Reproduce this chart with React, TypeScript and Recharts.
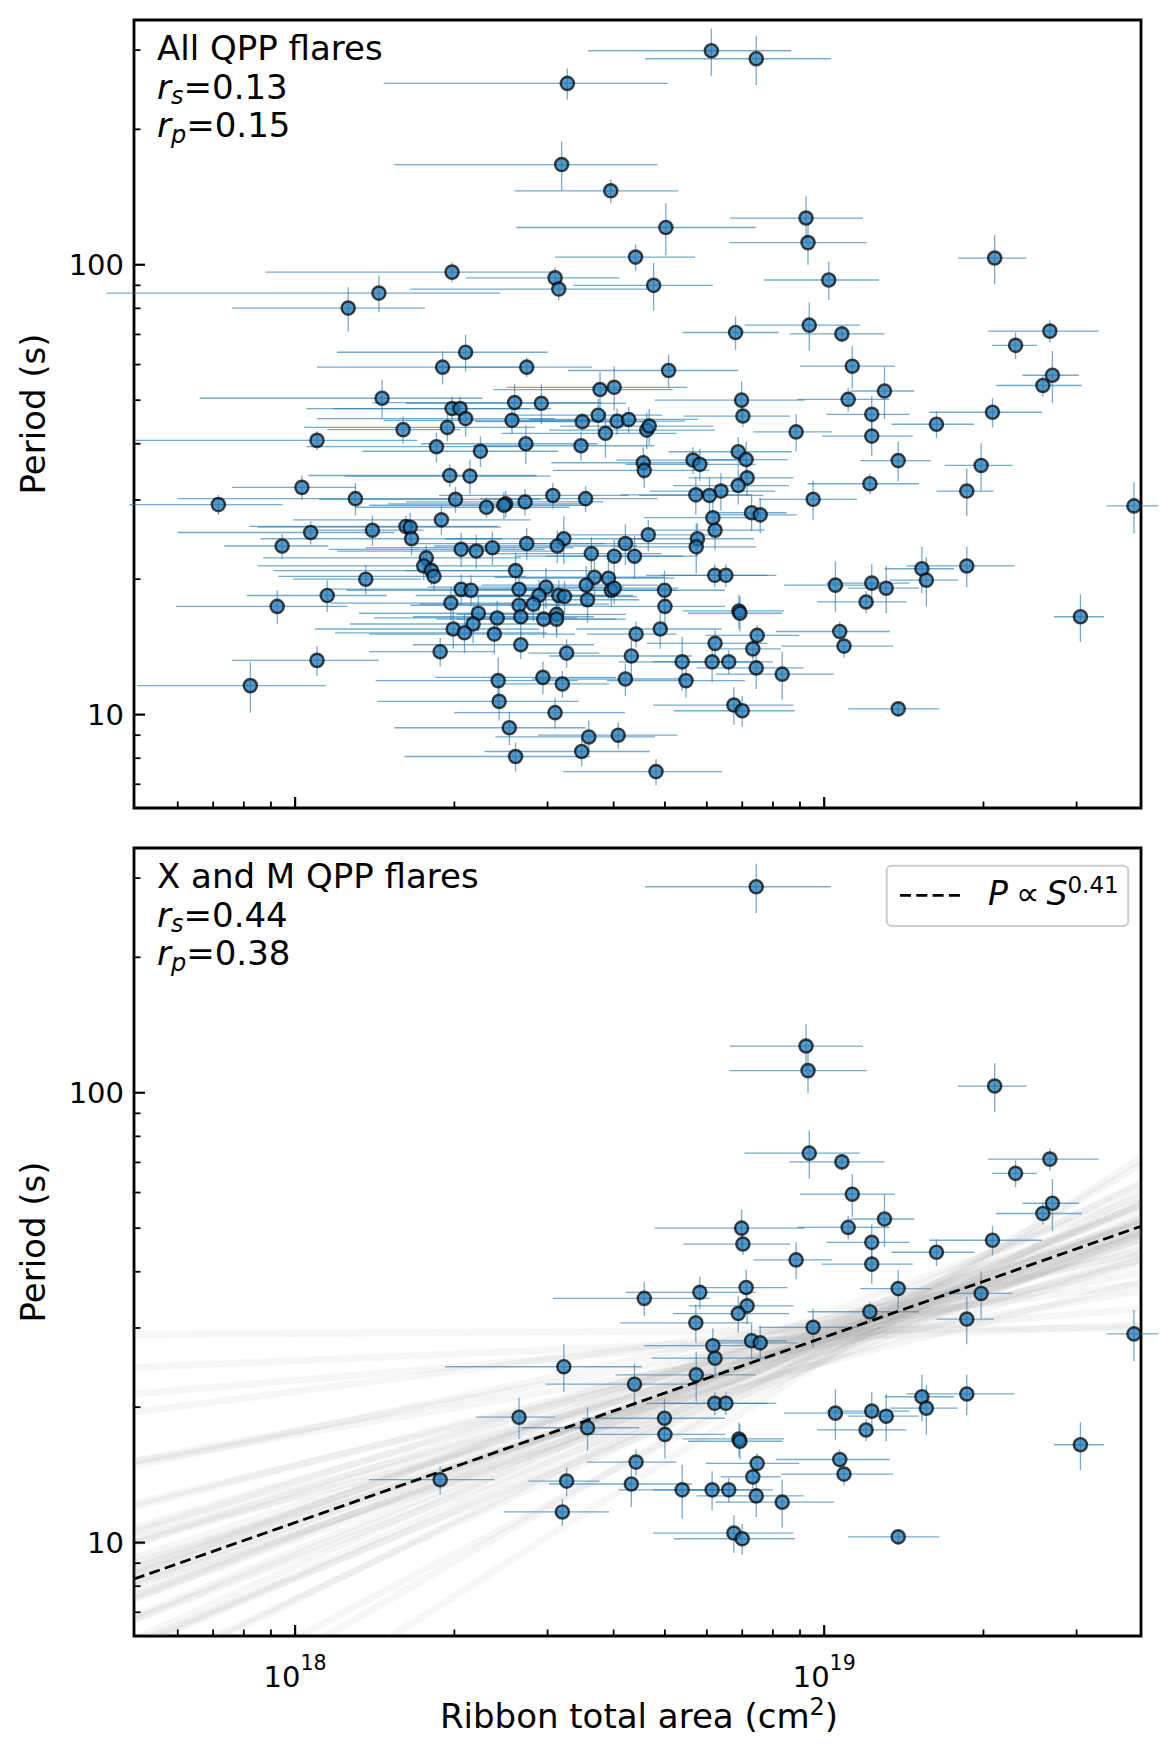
import React from "react";
import { ScatterChart, Scatter, XAxis, YAxis, ErrorBar, ReferenceArea } from "recharts";

// ribbon total area, in units of 1e18 cm^2, and its error
const area = [
  6.12, 7.44, 3.27, 3.19, 3.95, 9.24, 5.02, 9.32, 21.0, 4.4,
  1.98, 3.1, 10.2, 3.15, 4.76, 1.44, 1.26, 9.37, 6.8, 10.8,
  26.7, 23.0, 2.1, 1.9, 2.74, 5.08, 11.3, 27.0, 25.9, 13.0,
  3.77, 4.01, 1.46, 2.6, 2.92, 6.98, 11.1, 1.98, 2.05, 2.1,
  12.3, 20.8, 7.02, 2.57, 3.49, 3.74, 4.06, 4.27, 16.3, 4.62,
  4.67, 1.94, 1.6, 3.86, 8.85, 12.3, 1.1, 1.85, 2.73, 3.47,
  2.24, 6.88, 4.55, 4.57, 5.65, 5.82, 7.12, 13.8, 19.8, 1.96,
  2.14, 7.15, 12.2, 6.88, 1.03, 6.38, 18.6, 5.72, 6.07, 3.07,
  1.3, 9.53, 2.01, 3.54, 0.716, 38.5, 2.5, 2.48, 2.72, 2.3,
  7.29, 7.57, 6.16, 1.89, 1.62, 1.65, 1.4, 1.07, 6.22, 4.65,
  1.66, 5.76, 5.73, 3.22, 3.13, 0.945, 4.21, 2.74, 2.36, 2.2,
  2.06, 3.63, 4.01, 4.38, 1.77, 1.75, 1.81, 1.83, 2.61, 6.21,
  6.52, 18.6, 15.3, 15.6, 1.36, 10.5, 12.3, 13.1, 12.0, 4.99,
  5.0, 2.06, 2.15, 2.65, 3.68, 3.91, 3.55, 2.98, 2.89, 3.15,
  3.23, 3.96, 4.01, 2.65, 2.67, 2.82, 3.57, 1.97, 1.15, 0.925,
  6.9, 6.93, 2.22, 2.17, 1.99, 2.09, 2.41, 2.95, 3.12, 3.12,
  2.38, 10.7, 10.9, 7.47, 7.33, 4.41, 4.9, 6.22, 2.67, 1.88,
  3.26, 4.32, 1.1, 5.39, 6.14, 6.6, 7.44, 8.33, 2.42, 2.94,
  3.2, 4.21, 5.48, 0.823, 2.43, 6.75, 7.0, 13.8, 3.1, 2.54,
  3.59, 4.08, 3.48, 2.61, 4.81, 30.5,
];
const areaErr = [
  2.54, 2.85, 1.8, 1.65, 1.35, 2.6, 2.4, 2.7, 3.1, 1.3,
  1.1, 1.0, 2.5, 1.5, 1.4, 1.0, 0.5, 2.3, 1.4, 2.2,
  6.3, 2.25, 0.9, 0.8, 0.9, 1.8, 2.3, 3.3, 4.8, 1.8,
  1.4, 1.5, 0.8, 1.2, 1.3, 2.2, 2.2, 0.8, 1.0, 1.0,
  2.2, 5.0, 1.6, 1.1, 1.3, 1.2, 1.4, 1.5, 2.9, 1.6,
  1.5, 0.9, 0.45, 1.4, 1.5, 2.4, 0.6, 0.8, 1.0, 1.3,
  0.9, 1.8, 1.5, 1.5, 1.6, 1.6, 1.4, 2.1, 2.9, 0.9,
  0.9, 1.6, 2.9, 1.7, 0.27, 1.7, 2.3, 1.6, 1.6, 1.2,
  0.7, 2.0, 0.9, 1.3, 0.23, 4.3, 1.0, 1.1, 1.1, 1.0,
  1.2, 1.3, 1.6, 0.9, 0.8, 0.8, 0.35, 0.47, 1.5, 1.5,
  0.8, 1.6, 1.7, 1.3, 1.3, 0.21, 1.5, 1.1, 1.0, 1.0,
  0.9, 1.3, 1.4, 1.4, 0.9, 0.9, 0.9, 0.9, 1.0, 1.6,
  1.6, 4.3, 2.3, 2.3, 0.37, 2.1, 2.2, 2.0, 2.3, 1.5,
  1.5, 0.9, 0.9, 0.45, 1.3, 1.3, 1.3, 1.2, 1.2, 1.2,
  1.2, 1.3, 1.3, 1.0, 1.0, 1.1, 0.9, 0.8, 0.34, 0.33,
  1.5, 1.4, 0.9, 0.9, 0.9, 0.9, 1.0, 1.1, 1.1, 1.1,
  1.0, 2.6, 2.6, 1.5, 0.95, 0.85, 1.5, 1.6, 1.0, 0.5,
  0.5, 1.3, 0.34, 1.3, 1.4, 1.4, 1.7, 2.1, 1.0, 1.1,
  0.72, 1.4, 1.6, 0.32, 1.0, 2.0, 1.8, 2.7, 1.1, 1.0,
  1.2, 1.2, 1.2, 1.0, 1.6, 3.3,
];
// QPP period (s) and its error
const period = [
  299, 287, 253, 167, 146, 127, 121, 112, 103.5, 104,
  96.3, 93.5, 92.5, 88.3, 90.0, 86.5, 80.1, 73.4, 70.7, 70.2,
  71.2, 66.2, 63.9, 59.2, 59.2, 58.2, 59.5, 56.8, 53.9, 52.4,
  52.8, 53.4, 50.5, 49.4, 49.2, 50.0, 50.2, 47.9, 47.9, 45.5,
  46.5, 47.0, 46.1, 45.1, 44.8, 46.3, 44.9, 45.3, 44.2, 42.9,
  43.8, 43.5, 43.0, 42.2, 42.5, 41.6, 40.7, 39.4, 40.0, 39.6,
  38.5, 38.4, 36.3, 34.9, 36.8, 36.0, 36.9, 36.7, 35.8, 34.0,
  33.9, 33.6, 32.6, 32.3, 32.0, 31.4, 31.4, 30.8, 30.7, 30.7,
  30.2, 30.1, 30.1, 30.2, 29.3, 29.1, 29.4, 29.2, 29.7, 28.9,
  28.1, 27.8, 27.4, 27.1, 26.2, 26.1, 25.7, 25.4, 25.7, 25.1,
  24.6, 24.6, 23.6, 24.6, 23.7, 23.7, 24.0, 24.0, 23.5, 23.1,
  23.3, 22.8, 22.5, 22.5, 22.3, 21.4, 20.9, 20.3, 20.9, 20.4,
  20.4, 21.4, 21.1, 19.9, 20.0, 19.4, 19.6, 19.1, 17.8, 18.9,
  17.4, 19.0, 18.9, 19.0, 20.2, 20.1, 19.4, 19.2, 18.4, 18.4,
  18.3, 18.9, 19.1, 17.5, 16.5, 17.6, 18.0, 17.7, 18.4, 17.4,
  17.0, 16.8, 16.8, 15.9, 15.5, 15.2, 16.4, 16.3, 16.7, 16.3,
  15.1, 15.3, 14.2, 15.0, 14.0, 15.1, 15.5, 14.4, 14.3, 13.8,
  13.7, 13.5, 13.2, 13.1, 13.1, 13.1, 12.7, 12.3, 11.9, 12.1,
  11.7, 12.0, 11.9, 11.6, 10.7, 10.5, 10.2, 10.3, 10.1, 9.35,
  8.92, 9.0, 8.28, 8.07, 7.47, 16.5,
];
const periodErr = [
  36, 36, 20, 21, 9, 15, 16, 12, 13, 7,
  5, 5, 9, 5, 11, 8, 9, 9, 6, 3,
  4, 4.5, 6, 5, 3, 5, 6.5, 7.5, 3, 7,
  5, 6, 5, 5, 5, 5, 3, 3, 3, 4,
  4.5, 3.5, 2.5, 3, 2, 4, 3, 3, 3, 4,
  4, 3, 3, 5, 4, 4, 2, 3, 4, 3,
  3, 3, 3, 3, 2.5, 3, 3.5, 3.7, 4.3, 2,
  3, 3, 1.7, 3, 2, 3, 3.8, 3, 3, 2,
  2.5, 3, 2, 2, 1.5, 3.8, 2, 2, 2, 1.5,
  2.5, 2.5, 2.5, 2, 1.5, 2, 2, 1.5, 2.5, 2,
  2, 2, 3, 3, 2, 1.5, 2.5, 2, 2, 2,
  2, 2, 2, 2.5, 1.5, 1.5, 1.5, 1.5, 2, 1.2,
  1.2, 2.2, 2.5, 2.5, 1.5, 2.5, 2, 2.3, 1, 2,
  2, 1.5, 1.5, 2, 2, 2, 2, 2, 1.5, 1.5,
  1.5, 1.5, 1.5, 1.5, 1.5, 1.5, 2, 1.5, 1.5, 1.5,
  1.5, 1.5, 1.5, 1.5, 1.5, 1.5, 1.5, 1.5, 1.5, 1.5,
  1.5, 0.8, 0.8, 0.8, 0.8, 1, 1.5, 1, 1, 1,
  1, 1.5, 1, 1.8, 1.3, 0.8, 1.3, 1.5, 1.5, 1,
  0.8, 1, 1, 1.5, 1, 1, 0.8, 0.4, 0.8, 0.8,
  0.8, 0.6, 0.6, 0.6, 0.5, 2,
];
// 1 = X- or M-class flare (shown in the lower panel)
const xmClass = [
  0, 1, 0, 0, 0, 1, 0, 1, 1, 0,
  0, 0, 0, 0, 0, 0, 0, 1, 0, 1,
  1, 1, 0, 0, 0, 0, 1, 1, 1, 1,
  0, 0, 0, 0, 0, 1, 1, 0, 0, 0,
  1, 1, 1, 0, 0, 0, 0, 0, 1, 0,
  0, 0, 0, 0, 1, 1, 0, 0, 0, 0,
  0, 0, 0, 1, 0, 1, 1, 1, 1, 0,
  0, 1, 1, 1, 0, 0, 1, 1, 0, 0,
  0, 1, 0, 0, 0, 1, 0, 0, 0, 0,
  1, 1, 1, 0, 0, 0, 0, 0, 1, 0,
  0, 0, 1, 1, 0, 0, 0, 0, 0, 0,
  0, 0, 0, 1, 0, 0, 0, 0, 0, 1,
  1, 1, 1, 1, 0, 1, 1, 1, 1, 1,
  1, 0, 0, 1, 0, 0, 0, 0, 0, 0,
  0, 0, 0, 0, 0, 0, 1, 0, 0, 0,
  1, 1, 0, 0, 0, 0, 0, 0, 0, 0,
  0, 1, 1, 1, 1, 1, 0, 0, 0, 1,
  1, 1, 0, 1, 1, 1, 1, 1, 0, 0,
  1, 0, 0, 0, 0, 1, 1, 1, 0, 0,
  0, 0, 0, 0, 0, 1,
];

// power-law fit: posterior sample lines, period at the two ends of the area range
const fitArea = [0.496, 39.7];
const sampleLeft = [
  21.4, 19.5, 15.1, 14.8, 12.2, 12.0, 10.5, 10.8, 9.95, 9.0,
  10.0, 9.25, 8.55, 8.47, 8.87, 8.2, 7.83, 8.13, 8.71, 7.52,
  7.62, 6.73, 7.48, 6.76, 6.86, 5.85, 5.88, 5.1, 4.95, 3.97,
  3.51, 2.67, 24.5, 8.06, 8.55, 10.2, 6.1, 15.2, 10.6, 5.97, 29,
];
const sampleRight = [
  33.1, 37.6, 36.3, 44.2, 41.7, 44.7, 42.7, 47.9, 46.2, 43.6,
  50.7, 49.0, 47.3, 49.0, 51.3, 49.5, 47.3, 51.3, 55.0, 49.5,
  52.5, 48.4, 56.2, 53.1, 56.2, 52.5, 57.5, 56.9, 63.1, 60.3,
  69.2, 71.6, 30.5, 42.7, 58.9, 38.0, 62.4, 39.8, 51.3, 49.0, 30,
];
const bestFitPeriod = [8.3, 50.5];

const areaDomain = [0.496, 39.7];
const periodDomain = [6.2, 350];
const areaTicks = [0.6, 0.7, 0.8, 0.9, 1, 2, 3, 4, 5, 6, 7, 8, 9, 10, 20, 30];
const areaMajor = [1, 10];
const areaMajorLabels = ["18", "19"];
const periodTicks = [7, 8, 9, 10, 20, 30, 40, 50, 60, 70, 80, 90, 100, 200, 300];
const periodMajor = [10, 100];

const FONT = "DejaVu Sans, sans-serif";
const BLUE = "#1f77b4";

const points = area.map((s, i) => ({ x: s, y: period[i], ex: areaErr[i], ey: periodErr[i] }));
const xmPoints = points.filter((_, i) => xmClass[i] === 1);
const sampleLines = sampleLeft.map((p, i) => [
  { x: fitArea[0], y: p },
  { x: fitArea[1], y: sampleRight[i] },
]);
const bestFitLine = [
  { x: fitArea[0], y: bestFitPeriod[0] },
  { x: fitArea[1], y: bestFitPeriod[1] },
];

function Marker(props: any) {
  const { cx, cy } = props;
  if (cx == null || cy == null) return <g />;
  return (
    <circle
      cx={cx}
      cy={cy}
      r={6.6}
      fill={BLUE}
      fillOpacity={0.75}
      stroke="#000"
      strokeOpacity={0.72}
      strokeWidth={2.4}
    />
  );
}

const NoMarker = () => <g />;

function YTick(props: any) {
  const { x, y, payload } = props;
  const v = payload.value;
  const major = periodMajor.includes(v);
  return (
    <g>
      <line x1={x} x2={x + (major ? 11 : 6.5)} y1={y} y2={y} stroke="#000" strokeWidth={major ? 2.2 : 1.8} />
      {major && (
        <text x={x - 10} y={y} dy="0.36em" textAnchor="end" fontSize={29} fontFamily={FONT} fill="#000">
          {v}
        </text>
      )}
    </g>
  );
}

function makeXTick(withLabels: boolean) {
  return (props: any) => {
    const { x, y, payload } = props;
    const idx = areaMajor.indexOf(payload.value);
    const major = idx >= 0;
    return (
      <g>
        <line x1={x} x2={x} y1={y} y2={y - (major ? 11 : 6.5)} stroke="#000" strokeWidth={major ? 2.2 : 1.8} />
        {withLabels && major && (
          <text x={x} y={y + 51} textAnchor="middle" fontSize={29} fontFamily={FONT} fill="#000">
            10
            <tspan dy={-17} fontSize={20.5}>
              {areaMajorLabels[idx]}
            </tspan>
          </text>
        )}
      </g>
    );
  };
}

function Panel({ data, height, bottom, showFit, showXLabels }: any) {
  return (
    <ScatterChart width={1163} height={height} margin={{ top: 20, right: 22, bottom, left: 34 }}>
      <XAxis
        type="number"
        dataKey="x"
        scale="log"
        domain={areaDomain}
        allowDataOverflow
        ticks={areaTicks}
        interval={0}
        tick={makeXTick(showXLabels)}
        tickSize={0}
        tickMargin={0}
        tickLine={false}
        axisLine={false}
        height={20}
      />
      <YAxis
        type="number"
        dataKey="y"
        scale="log"
        domain={periodDomain}
        allowDataOverflow
        ticks={periodTicks}
        interval={0}
        tick={(p: any) => <YTick {...p} />}
        tickSize={0}
        tickMargin={0}
        tickLine={false}
        axisLine={false}
        width={100}
      />
      {showFit &&
        sampleLines.map((line, i) => (
          <Scatter
            key={"s" + i}
            data={line}
            shape={NoMarker}
            line={{ stroke: "#858585", strokeOpacity: 0.075, strokeWidth: 7 }}
            isAnimationActive={false}
          />
        ))}
      {showFit && (
        <Scatter
          data={bestFitLine}
          shape={NoMarker}
          line={{ stroke: "#000", strokeWidth: 2.8, strokeDasharray: "11 5.3" }}
          isAnimationActive={false}
        />
      )}
      <Scatter data={data} shape={Marker} isAnimationActive={false}>
        <ErrorBar
          dataKey="ex"
          direction="x"
          width={0}
          stroke={BLUE}
          strokeOpacity={0.62}
          strokeWidth={1.3}
          isAnimationActive={false}
        />
        <ErrorBar
          dataKey="ey"
          direction="y"
          width={0}
          stroke={BLUE}
          strokeOpacity={0.62}
          strokeWidth={1.3}
          isAnimationActive={false}
        />
      </Scatter>
      <ReferenceArea
        x1={areaDomain[0]}
        x2={areaDomain[1]}
        y1={periodDomain[0]}
        y2={periodDomain[1]}
        fill="none"
        stroke="#000"
        strokeWidth={2.8}
        ifOverflow="visible"
      />
    </ScatterChart>
  );
}

function Stats({ y, title, rs, rp }: any) {
  return (
    <g fontFamily={FONT} fontSize={34} fill="#000">
      <text x={157} y={y}>{title}</text>
      <text x={157} y={y + 38.5}>
        <tspan fontStyle="italic">r</tspan>
        <tspan fontStyle="italic" fontSize={24} dy={5.5}>s</tspan>
        <tspan dy={-5.5}>={rs}</tspan>
      </text>
      <text x={157} y={y + 77}>
        <tspan fontStyle="italic">r</tspan>
        <tspan fontStyle="italic" fontSize={24} dy={5.5}>p</tspan>
        <tspan dy={-5.5}>={rp}</tspan>
      </text>
    </g>
  );
}

export default function App() {
  return (
    <div style={{ position: "relative", width: 1163, height: 1759, background: "#fff" }}>
      <style>{"body{margin:0}"}</style>
      <div style={{ position: "absolute", left: 0, top: 0 }}>
        <Panel data={points} height={830} bottom={2} showFit={false} showXLabels={false} />
      </div>
      <div style={{ position: "absolute", left: 0, top: 828 }}>
        <Panel data={xmPoints} height={931} bottom={103} showFit={true} showXLabels={true} />
      </div>
      <svg
        width={1163}
        height={1759}
        style={{ position: "absolute", left: 0, top: 0, pointerEvents: "none" }}
      >
        <Stats y={60} title="All QPP flares" rs="0.13" rp="0.15" />
        <Stats y={888} title="X and M QPP flares" rs="0.44" rp="0.38" />
        <g fontFamily={FONT} fontSize={34} fill="#000">
          <text transform="translate(45,414) rotate(-90)" textAnchor="middle">Period (s)</text>
          <text transform="translate(45,1242) rotate(-90)" textAnchor="middle">Period (s)</text>
          <text x={639} y={1728} textAnchor="middle">
            Ribbon total area (cm
            <tspan dy={-13} fontSize={24}>2</tspan>
            <tspan dy={13}>)</tspan>
          </text>
        </g>
        <g>
          <rect x={886.7} y={865.7} width={241.6} height={60.3} rx={5} fill="#fff" fillOpacity={0.8} stroke="#cccccc" strokeWidth={2} />
          <line x1={900} x2={960} y1={895.3} y2={895.3} stroke="#000" strokeWidth={2.8} strokeDasharray="11 5.3" />
          <text x={988} y={905} fontFamily={FONT} fontSize={33} fill="#000">
            <tspan fontStyle="italic">P</tspan>
            <tspan dx={8}>∝</tspan>
            <tspan dx={7} fontStyle="italic">S</tspan>
            <tspan dy={-12} fontSize={23}>0.41</tspan>
          </text>
        </g>
      </svg>
    </div>
  );
}
